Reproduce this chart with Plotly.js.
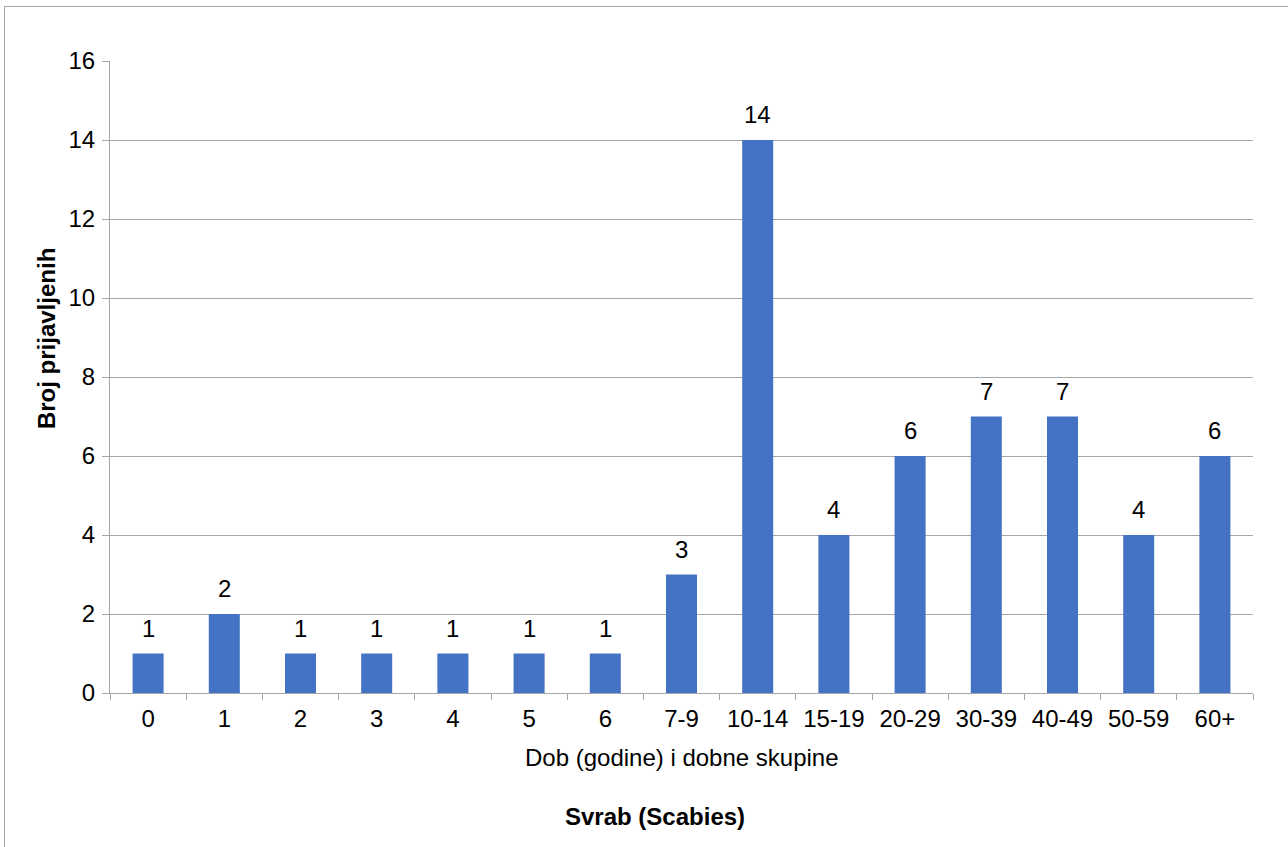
<!DOCTYPE html>
<html>
<head>
<meta charset="utf-8">
<script src="https://cdn.plot.ly/plotly-3.0.1.min.js"></script>
<style>
html,body{margin:0;padding:0;background:#fff;overflow:hidden;}
#frame{position:absolute;left:4px;top:6px;width:1300px;height:860px;border:1px solid #a6a6a6;box-sizing:border-box;}
#chart{position:absolute;left:0;top:0;width:1288px;height:847px;}
</style>
</head>
<body>
<div id="frame"></div>
<div id="chart"></div>
<script>
const categories = ["0","1","2","3","4","5","6","7-9","10-14","15-19","20-29","30-39","40-49","50-59","60+"];
const values = [1,2,1,1,1,1,1,3,14,4,6,7,7,4,6];
const yTicks = [0,2,4,6,8,10,12,14,16];
const xTitle = "Dob (godine) i dobne skupine";
const yTitle = "Broj prijavljenih";
const chartTitle = "Svrab (Scabies)";

const font = "Liberation Sans, Arial, sans-serif";
const fs = 24;

const labelAnns = categories.map((c, i) => ({
  x: c, y: values[i], xref: 'x', yref: 'y',
  text: String(values[i]), showarrow: false,
  yanchor: 'bottom', yshift: 10,
  font: {family: font, size: fs, color: '#000'}
}));

const trace = {
  type: 'bar', x: categories, y: values,
  marker: {color: '#4472C4'},
  hoverinfo: 'skip'
};

const layout = {
  width: 1288, height: 847,
  margin: {l: 110, r: 35, t: 61, b: 154},
  paper_bgcolor: 'rgba(0,0,0,0)', plot_bgcolor: '#fff',
  bargap: 0.593,
  showlegend: false,
  font: {family: font, size: fs, color: '#000'},
  xaxis: {
    type: 'category', tickmode: 'array', tickvals: categories,
    showgrid: false, showline: true, linecolor: '#a6a6a6', linewidth: 1,
    ticks: 'outside', ticklen: 6, tickcolor: '#a6a6a6', tickson: 'boundaries',
    ticklabelstandoff: 4,
    tickfont: {family: font, size: fs, color: '#000'},
    fixedrange: true
  },
  yaxis: {
    range: [0, 16], tickmode: 'array', tickvals: yTicks,
    showgrid: true, gridcolor: '#a6a6a6', gridwidth: 1,
    showline: true, linecolor: '#a6a6a6', linewidth: 1,
    ticks: 'outside', ticklen: 7, tickcolor: '#a6a6a6',
    ticklabelstandoff: 2,
    zeroline: false,
    tickfont: {family: font, size: fs, color: '#000'},
    fixedrange: true
  },
  annotations: labelAnns.concat([
    {text: xTitle, xref: 'paper', yref: 'paper', x: 0.5, y: 0, xanchor: 'center', yanchor: 'middle',
     yshift: -64, showarrow: false, font: {family: font, size: fs, color: '#000'}},
    {text: '<b>' + chartTitle + '</b>', xref: 'paper', yref: 'paper', x: 0.477, y: 0, xanchor: 'center', yanchor: 'middle',
     yshift: -123, showarrow: false, font: {family: font, size: fs, color: '#000'}},
    {text: '<b>' + yTitle + '</b>', xref: 'paper', yref: 'paper', x: 0, y: 0.56, xanchor: 'center', yanchor: 'middle',
     xshift: -64, textangle: -90, showarrow: false, font: {family: font, size: fs, color: '#000'}}
  ])
};

Plotly.newPlot('chart', [trace], layout, {displayModeBar: false, staticPlot: true});
</script>
</body>
</html>
